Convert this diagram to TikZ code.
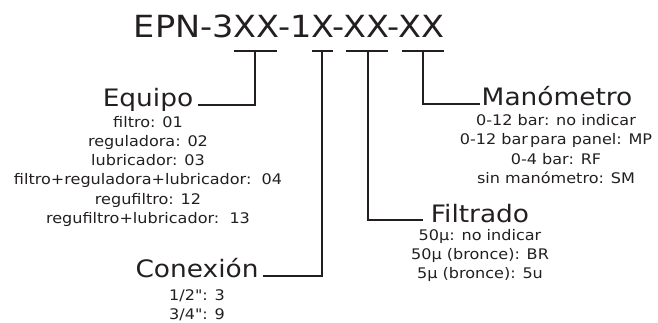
\documentclass[tikz,border=0pt]{standalone}
\usepackage{fontspec}
\newfontfamily\dv[FakeStretch=1.1]{DejaVu Sans}
\definecolor{ink}{HTML}{231F20}
\begin{document}
\begin{tikzpicture}[x=1pt,y=-1pt,
  titlestyle/.style={font=\dv\fontsize{30.5}{31}\selectfont, text=ink, inner sep=0pt, anchor=base},
  headstyle/.style={font=\dv\fontsize{24}{24}\selectfont, text=ink, inner sep=0pt, anchor=base},
  itemstyle/.style={font=\dv\fontsize{14.6}{15}\selectfont, text=ink, inner sep=0pt, anchor=base},
  link/.style={draw=ink, line width=2pt}]
\useasboundingbox (0,0) rectangle (658,322);
% title
\node[titlestyle] (title) at (289,37) {EPN-3XX-1X-XX-XX};
% bracket coordinates
\coordinate (b1l) at (234,51); \coordinate (b1r) at (277,51); \coordinate (b1m) at (255,51);
\coordinate (b2l) at (312,51); \coordinate (b2r) at (333,51); \coordinate (b2m) at (322,51);
\coordinate (b3l) at (346,51); \coordinate (b3r) at (388,51); \coordinate (b3m) at (368,51);
\coordinate (b4l) at (402,51); \coordinate (b4r) at (444,51); \coordinate (b4m) at (423,51);
\coordinate (eqend) at (198,105);
\coordinate (coend) at (263,276);
\coordinate (fiend) at (423,220);
\coordinate (maend) at (480,104);
% headings
\node[headstyle] (equipo) at (148,106) {Equipo};
\node[headstyle] (conexion) at (197,277) {Conexión};
\node[headstyle] (filtrado) at (480,222) {Filtrado};
\node[headstyle] (manometro) at (557,105) {Manómetro};
% Equipo items
\node[itemstyle] (e1) at (148,127) {filtro: 01};
\node[itemstyle] (e2) at (148,146.3) {reguladora: 02};
\node[itemstyle] (e3) at (148,165.6) {lubricador: 03};
\node[itemstyle] (e4) at (148,184.9) {filtro+reguladora+lubricador:\ \ 04};
\node[itemstyle] (e5) at (148,204.2) {regufiltro: 12};
\node[itemstyle] (e6) at (148,223.5) {regufiltro+lubricador:\ \ 13};
% Conexion items
\node[itemstyle] (c1) at (197,300) {1/2": 3};
\node[itemstyle] (c2) at (197,319) {3/4": 9};
% Filtrado items
\node[itemstyle] (f1) at (480,240) {50µ: no indicar};
\node[itemstyle] (f2) at (480,259.5) {50µ (bronce): BR};
\node[itemstyle] (f3) at (480,278) {5µ (bronce): 5u};
% Manometro items
\node[itemstyle] (m1) at (556,125) {0-12 bar: no indicar};
\node[itemstyle] (m2) at (556,144.5) {0-12 bar\hspace{0.15em}para panel: MP};
\node[itemstyle] (m3) at (556,164) {0-4 bar: RF};
\node[itemstyle] (m4) at (556,183) {sin manómetro: SM};
% connectors
\draw[link] (b1l) -- (b1r);
\draw[link] (b2l) -- (b2r);
\draw[link] (b3l) -- (b3r);
\draw[link] (b4l) -- (b4r);
\draw[link] (b1m) |- (eqend);
\draw[link] (b2m) |- (coend);
\draw[link] (b3m) |- (fiend);
\draw[link] (b4m) |- (maend);
\end{tikzpicture}
\end{document}
